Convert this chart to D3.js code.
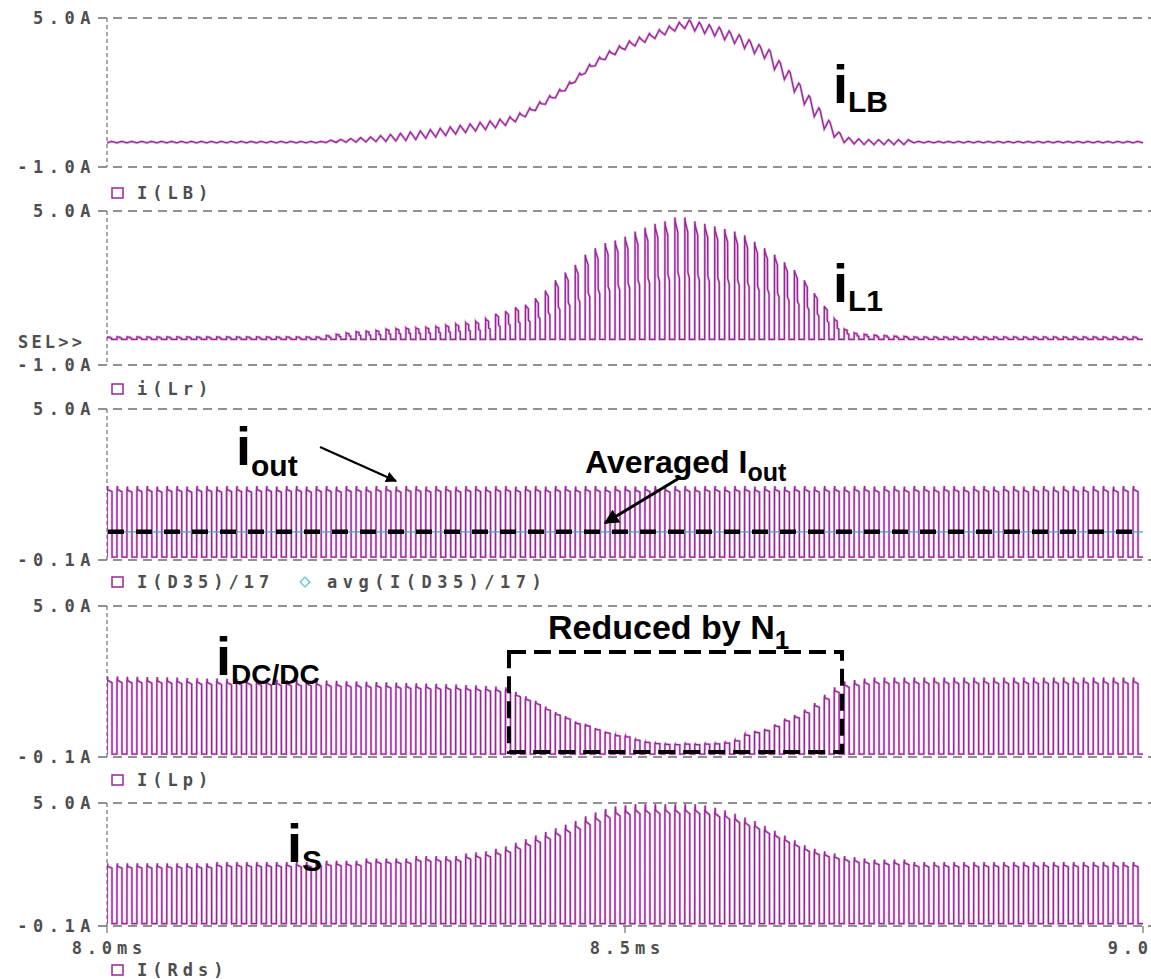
<!DOCTYPE html>
<html>
<head>
<meta charset="utf-8">
<script src="https://cdn.jsdelivr.net/npm/d3@7"></script>
<style>
  html, body { margin: 0; padding: 0; background: #fff; }
  svg { display: block; }
</style>
</head>
<body>
<svg id="chart" width="1151" height="979"></svg>
<script>
// ---------------- data ----------------
const timeDomainMs = [8.0, 9.0];
const timeTicksMs = [8.0, 8.5, 9.0];
const timeTickLabels = ["8.0ms", "8.5ms", "9.0ms"];
const switchingCyclesPerWindow = 104;

const panelLegends = [
  ["I(LB)"],
  ["i(Lr)"],
  ["I(D35)/17", "avg(I(D35)/17)"],
  ["I(Lp)"],
  ["I(Rds)"]
];
const panelRanges = [[-1, 5], [-1, 5], [-0.1, 5], [-0.1, 5], [-0.1, 5]];
const panelTickLabels = [
  ["5.0A", "-1.0A"], ["5.0A", "-1.0A"], ["5.0A", "-0.1A"], ["5.0A", "-0.1A"], ["5.0A", "-0.1A"]
];

// boost inductor current: cycle mean and peak-to-peak ripple (A)
const iLBMean = [
  0,0,0,0,0,0,0,0,0,0,0,0,0,0,0,0,0,0,0,0,0,0,
  0.03,0.05,0.07,0.09,0.11,0.14,0.17,0.2,0.24,0.28,0.33,0.38,0.44,0.5,0.56,0.62,0.68,0.75,
  0.85,1.0,1.2,1.45,1.7,1.95,2.25,2.6,2.95,3.25,3.5,3.7,3.9,4.05,4.2,4.35,4.5,4.65,4.75,
  4.65,4.55,4.45,4.3,4.15,3.95,3.75,3.55,3.1,2.7,2.2,1.7,1.2,0.7,0.3,0.08,0.03,
  0,0,0,0,0,0,0,0,0,0,0,0,0,0,0,0,0,0,0,0,0,0,0,0,0,0,0,0
];
const iLBRipple = [
  0.06,0.06,0.06,0.06,0.06,0.06,0.06,0.06,0.06,0.06,0.06,0.06,0.06,0.06,0.06,0.06,0.06,0.06,0.06,0.06,0.06,0.06,
  0.1,0.12,0.15,0.18,0.2,0.24,0.28,0.3,
  0.35,0.35,0.35,0.35,0.35,0.35,0.35,0.35,0.35,0.35,0.35,0.35,0.35,0.35,0.35,0.35,0.35,0.35,0.35,0.35,0.35,
  0.35,0.35,0.35,0.35,0.35,0.35,0.35,0.35,0.35,0.35,0.35,0.35,0.35,0.35,0.35,0.35,0.35,0.35,0.35,0.35,0.35,0.35,
  0.2,0.2,0.2,0.2,0.2,0.2,0.2,0.2,
  0.06,0.06,0.06,0.06,0.06,0.06,0.06,0.06,0.06,0.06,0.06,0.06,0.06,0.06,0.06,0.06,0.06,0.06,0.06,0.06,0.06,0.06,0.06
];
// resonant inductor current, peak per cycle (A)
const iLrPeak = [
  0.1,0.1,0.1,0.1,0.1,0.1,0.1,0.1,0.1,0.1,0.1,0.1,0.1,0.1,0.1,0.1,0.1,0.1,0.1,0.1,0.1,0.1,
  0.15,0.2,0.25,0.3,0.32,0.35,0.4,0.42,0.45,0.45,0.47,0.5,0.55,0.6,0.65,0.7,0.8,1.0,
  1.1,1.25,1.35,1.6,1.9,2.3,2.6,2.9,3.3,3.55,3.75,3.85,4.0,4.2,4.35,4.5,4.6,4.75,4.75,
  4.6,4.5,4.4,4.3,4.2,4.05,3.8,3.55,3.3,3.0,2.7,2.3,1.8,1.3,0.8,0.4,0.25,0.2,0.17,0.15,0.13,0.12,
  0.1,0.1,0.1,0.1,0.1,0.1,0.1,0.1,0.1,0.1,0.1,0.1,0.1,0.1,0.1,0.1,0.1,0.1,0.1,0.1,0.1,0.1,0.1
];
// output diode current / 17, peak per cycle (A)
const iOutPeak = [
  2.4,2.4,2.38,2.4,2.4,2.38,2.4,2.4,2.38,2.4,2.4,2.38,2.4,2.4,2.38,2.4,2.4,2.38,2.4,2.4,
  2.38,2.4,2.4,2.38,2.4,2.4,2.38,2.4,2.4,2.38,2.4,2.4,2.38,2.4,2.4,2.38,2.4,2.4,2.38,2.4,
  2.4,2.38,2.4,2.4,2.38,2.4,2.4,2.38,2.4,2.4,2.38,2.4,2.4,2.38,2.4,2.4,2.38,2.4,2.4,2.38,
  2.4,2.4,2.38,2.4,2.4,2.38,2.4,2.4,2.38,2.4,2.4,2.38,2.4,2.4,2.38,2.4,2.4,2.38,2.4,2.4,
  2.38,2.4,2.4,2.38,2.4,2.4,2.38,2.4,2.4,2.38,2.4,2.4,2.38,2.4,2.4,2.38,2.4,2.4,2.38,2.4,
  2.4,2.38,2.4,2.4
];
const iOutAverage = 0.85;
// DC/DC primary current, peak per cycle (A)
const iLpPeak = [
  2.62,2.62,2.61,2.61,2.6,2.6,2.59,2.58,2.57,2.56,2.55,2.55,2.54,2.53,2.53,2.52,2.52,2.51,2.5,2.5,
  2.5,2.49,2.48,2.47,2.46,2.45,2.44,2.43,2.42,2.41,2.4,2.39,2.38,2.37,2.36,2.35,2.33,2.32,2.3,2.28,
  2.25,2.1,1.95,1.8,1.6,1.42,1.28,1.1,1.02,0.88,0.76,0.66,0.62,0.5,0.42,0.38,0.35,0.34,0.36,0.34,
  0.36,0.37,0.4,0.48,0.68,0.78,0.85,1.0,1.2,1.32,1.5,1.72,2.0,2.25,2.45,2.5,2.55,
  2.58,2.58,2.58,2.58,2.58,2.58,2.58,2.58,2.58,2.58,2.58,2.58,2.58,2.58,2.58,2.58,2.58,2.58,2.58,2.58,
  2.58,2.58,2.58,2.58,2.58,2.58,2.58
];
// switch current, peak per cycle (A)
const iRdsPeak = [
  2.5,2.5,2.5,2.5,2.5,2.5,2.5,2.5,2.5,2.5,2.5,
  2.55,2.55,2.55,2.55,2.55,2.55,2.55,2.55,2.55,2.55,
  2.6,2.6,2.6,2.6,2.6,2.7,2.7,2.7,2.7,2.7,2.8,2.8,2.8,2.8,2.8,
  2.9,2.95,3.0,3.1,3.2,3.35,3.5,3.65,3.8,3.95,4.1,4.25,4.45,4.6,4.75,4.85,4.9,4.95,4.95,4.95,
  4.95,4.95,4.95,4.95,4.9,4.8,4.7,4.55,4.4,4.25,4.05,3.85,3.65,3.45,3.25,3.1,3.0,2.9,2.8,2.75,
  2.7,2.65,2.65,2.65,2.65,
  2.55,2.55,2.55,2.55,2.55,2.55,2.55,2.55,2.55,2.55,2.55,2.55,2.55,2.55,2.55,2.55,2.55,2.55,2.55,2.55,
  2.55,2.55,2.55
];

// region where the DC/DC current is reduced by N1 (ms, A)
const reducedWindowMs = [8.388, 8.7095];
const reducedWindowA = [0.07, 3.45];

// ---------------- layout ----------------
const svg = d3.select("#chart");
const W = 1151;
const plotLeft = 107, plotRight = 1143;
const panelBands = [[18, 167], [211, 365], [409, 560], [606, 757], [803, 926]];
const legendY = [193, 389, 582, 780, 970];
const waveColor = "#952795";
const gridColor = "#6e6e6e";
const labelColor = "#4e4e4e";
const monoFont = "'DejaVu Sans Mono', 'Liberation Mono', monospace";
const annoFont = "'Liberation Sans', Arial, Helvetica, sans-serif";

const x = d3.scaleLinear().domain(timeDomainMs).range([plotLeft, plotRight]);
const yScales = panelBands.map((b, i) => d3.scaleLinear().domain(panelRanges[i]).range([b[1], b[0]]));

const period = (timeDomainMs[1] - timeDomainMs[0]) / switchingCyclesPerWindow;

// waveform shape within one switching period: [phase, fraction of cycle peak]
const resonantProfile = [[0, 0], [0.01, 1], [0.06, 0.96], [0.30, 0.88], [0.31, 0.55], [0.46, 0.5], [0.47, 0], [1, 0]];
const pulseProfile = [[0, 0], [0.005, 0.94], [0.05, 1], [0.07, 0.95], [0.5, 0.92], [0.505, 0], [1, 0]];

function pulseTrain(peaks, profile) {
  const pts = [];
  peaks.forEach((p, k) => {
    const t0 = timeDomainMs[0] + k * period;
    profile.forEach(([ph, f]) => {
      if (k > 0 && ph === 0 && pts.length) return;
      pts.push([t0 + ph * period, f * p]);
    });
  });
  return pts;
}
function rippleTrain(mean, ripple) {
  const pts = [];
  mean.forEach((m, k) => {
    const t0 = timeDomainMs[0] + k * period;
    const r = ripple[k];
    pts.push([t0, m - r / 2]);
    pts.push([t0 + 0.45 * period, m + r / 2]);
    pts.push([t0 + 0.58 * period, m + r * 0.3]);
  });
  pts.push([timeDomainMs[1], mean[mean.length - 1] - ripple[ripple.length - 1] / 2]);
  return pts;
}

const series = [
  rippleTrain(iLBMean, iLBRipple),
  pulseTrain(iLrPeak, resonantProfile),
  pulseTrain(iOutPeak, pulseProfile),
  pulseTrain(iLpPeak, pulseProfile),
  pulseTrain(iRdsPeak, pulseProfile)
];

function monoText(sel, size, spacing) {
  return sel.attr("font-family", monoFont).attr("font-weight", "bold")
    .attr("font-size", size).attr("letter-spacing", spacing + "px")
    .attr("fill", labelColor);
}

// ---------------- frames ----------------
panelBands.forEach((band, i) => {
  const g = svg.append("g");
  // horizontal dashed gridlines at top / bottom of each panel
  band.forEach(yv => {
    g.append("line")
      .attr("x1", 98).attr("x2", W).attr("y1", yv).attr("y2", yv)
      .attr("stroke", gridColor).attr("stroke-width", 1.3)
      .attr("stroke-dasharray", "9,6");
  });
  // dashed left axis
  g.append("line")
    .attr("x1", plotLeft).attr("x2", plotLeft).attr("y1", band[0]).attr("y2", band[1])
    .attr("stroke", gridColor).attr("stroke-width", 1.2)
    .attr("stroke-dasharray", "4,3");
  // tick labels
  const ys = yScales[i];
  panelTickLabels[i].forEach((lab, j) => {
    monoText(g.append("text"), 17, 5.5)
      .attr("x", 96).attr("y", ys(panelRanges[i][1 - j]))
      .attr("dy", "0.36em")
      .attr("text-anchor", "end")
      .text(lab);
  });
});

// SEL>> marker on the selected plot
monoText(svg.append("text"), 17, 3.2)
  .attr("x", 18).attr("y", yScales[1](0) + 3).attr("dy", "0.36em")
  .text("SEL>>");

// ---------------- waveforms ----------------
const defs = svg.append("defs");
defs.append("clipPath").attr("id", "plotClip")
  .append("rect").attr("x", plotLeft).attr("y", 0).attr("width", plotRight - plotLeft + 1).attr("height", 979);

series.forEach((pts, i) => {
  const ys = yScales[i];
  const line = d3.line().x(d => x(d[0])).y(d => ys(d[1]));
  const g = svg.append("g").attr("clip-path", "url(#plotClip)");
  g.append("path").attr("d", line(pts))
    .attr("fill", "none").attr("stroke", "#d07fd0").attr("stroke-width", 2.6)
    .attr("stroke-opacity", 0.6).attr("stroke-linejoin", "miter");
  g.append("path").attr("d", line(pts))
    .attr("fill", "none").attr("stroke", waveColor).attr("stroke-width", 1.3)
    .attr("stroke-linejoin", "miter");
});

// averaged output current trace
svg.append("line")
  .attr("x1", x(timeDomainMs[0])).attr("x2", x(timeDomainMs[1]))
  .attr("y1", yScales[2](iOutAverage)).attr("y2", yScales[2](iOutAverage))
  .attr("stroke", "#3aa6cf").attr("stroke-width", 1.2);

// ---------------- legends ----------------
panelLegends.forEach((names, i) => {
  const cy = legendY[i];
  svg.append("rect")
    .attr("x", 112).attr("y", cy - 5).attr("width", 11).attr("height", 10)
    .attr("fill", "none").attr("stroke", waveColor).attr("stroke-width", 1.5);
  monoText(svg.append("text"), 17, 5)
    .attr("x", 137).attr("y", cy).attr("dy", "0.36em")
    .text(names[0]);
  if (names[1]) {
    svg.append("path")
      .attr("d", d3.symbol(d3.symbolDiamond2, 60)())
      .attr("transform", `translate(305,${cy})`)
      .attr("fill", "none").attr("stroke", "#5cc3d6").attr("stroke-width", 1.3);
    monoText(svg.append("text"), 17, 5.5)
      .attr("x", 327).attr("y", cy).attr("dy", "0.36em")
      .text(names[1]);
  }
});

// ---------------- time axis ----------------
const lastBand = panelBands[4];
timeTicksMs.forEach((t, j) => {
  svg.append("line")
    .attr("x1", x(t)).attr("x2", x(t)).attr("y1", lastBand[1]).attr("y2", lastBand[1] + 7)
    .attr("stroke", gridColor).attr("stroke-width", 1.2);
  monoText(svg.append("text"), 17, 4.8)
    .attr("x", x(t) + 2.4).attr("y", 948).attr("dy", "0.36em")
    .attr("text-anchor", "middle")
    .text(timeTickLabels[j]);
});

// ---------------- annotations ----------------
const anno = svg.append("g").attr("font-family", annoFont).attr("font-weight", "bold").attr("fill", "#000");

function subLabel(px, py, main, sub, mainSize, subSize, subDy) {
  const t = anno.append("text").attr("x", px).attr("y", py);
  t.append("tspan").attr("font-size", mainSize).text(main);
  t.append("tspan").attr("font-size", subSize).attr("dy", subDy).text(sub);
}
subLabel(833, 103, "i", "LB", 54, 30, 9);
subLabel(833, 302, "i", "L1", 54, 30, 9);
subLabel(236, 465, "i", "out", 54, 30, 11);
subLabel(216, 675, "i", "DC/DC", 54, 28, 9);
subLabel(287, 862, "i", "S", 54, 30, 9);
subLabel(585, 473, "Averaged I", "out", 32, 25, 8);
subLabel(548, 639, "Reduced by N", "1", 34, 26, 10);

// arrow heads
defs.append("marker").attr("id", "arrowHead")
  .attr("viewBox", "0 0 10 10").attr("refX", 9).attr("refY", 5)
  .attr("markerWidth", 5).attr("markerHeight", 5).attr("orient", "auto")
  .append("path").attr("d", "M0,0 L10,5 L0,10 Z").attr("fill", "#000");

anno.append("line")
  .attr("x1", 320).attr("y1", 447).attr("x2", 396).attr("y2", 481)
  .attr("stroke", "#000").attr("stroke-width", 2.2).attr("marker-end", "url(#arrowHead)");
anno.append("line")
  .attr("x1", 681).attr("y1", 477).attr("x2", 605).attr("y2", 523)
  .attr("stroke", "#000").attr("stroke-width", 3).attr("marker-end", "url(#arrowHead)");

// dashed marker for the averaged output current
svg.append("line")
  .attr("x1", x(timeDomainMs[0]) + 1).attr("x2", x(timeDomainMs[1]))
  .attr("y1", yScales[2](iOutAverage)).attr("y2", yScales[2](iOutAverage))
  .attr("stroke", "#000").attr("stroke-width", 4.5).attr("stroke-dasharray", "16,12");

// dashed box around the reduced DC/DC current
svg.append("rect")
  .attr("x", x(reducedWindowMs[0])).attr("y", yScales[3](reducedWindowA[1]))
  .attr("width", x(reducedWindowMs[1]) - x(reducedWindowMs[0]))
  .attr("height", yScales[3](reducedWindowA[0]) - yScales[3](reducedWindowA[1]))
  .attr("fill", "none").attr("stroke", "#000").attr("stroke-width", 4)
  .attr("stroke-dasharray", "17,8");
</script>
</body>
</html>
